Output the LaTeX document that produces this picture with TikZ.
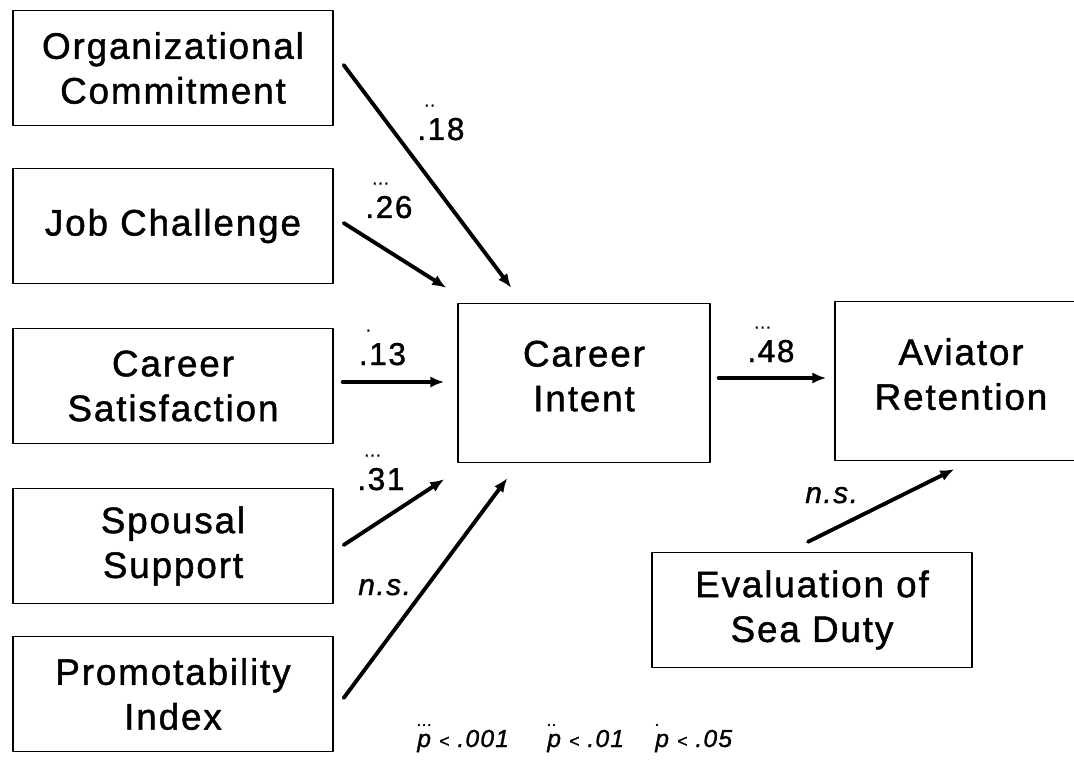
\documentclass[tikz,border=0pt]{standalone}
\usepackage{fontspec}
\setmainfont{Liberation Sans}[LetterSpace=5,FakeBold=1.2]
\usetikzlibrary{arrows.meta,calc}

% significance dots set above a coefficient or above p
\newcommand{\sigdots}[1]{\rlap{\kern4pt\raisebox{19pt}{\fontsize{10}{10}\selectfont #1}}}
\newcommand{\plevel}[1]{\rlap{\raisebox{12pt}{\fontsize{9}{9}\selectfont #1}}p}
% lifts two-line text a little inside the tall boxes
\newcommand{\lift}{\rule[-8pt]{0pt}{8pt}}

\begin{document}
\begin{tikzpicture}[x=0.02cm,y=-0.02cm,>=Latex,line cap=round,line join=round,
  var/.style={draw,line width=0.8pt,minimum width=6.4cm,minimum height=2.3cm,
    inner sep=0pt,align=center,font=\fontsize{21}{25.5}\selectfont},
  big/.style={var,minimum width=5.04cm,minimum height=3.18cm},
  link/.style={-{Latex[length=8pt,width=6.5pt]},line width=2.2pt},
  coef/.style={anchor=base west,inner sep=0pt,font=\fontsize{18}{18}\selectfont},
  ns/.style={coef,font=\fontsize{17}{17}\selectfont\itshape},
  key/.style={anchor=base west,inner sep=0pt,font=\fontsize{14}{14}\selectfont\itshape}]
  \path[use as bounding box,clip] (0,0) rectangle (1074,763);

  % predictors
  \node[var] (org) at (173,68) {Organizational\\Commitment};
  \node[var] (job) at (173,226) {Job Challenge};
  \node[var] (sat) at (173,386) {Career\\Satisfaction};
  \node[var] (spouse) at (173,546) {Spousal\\Support};
  \node[var] (promo) at (173,694) {Promotability\\Index};

  % intent, retention and sea duty
  \node[big] (ci) at (584,383) {Career\\Intent\lift};
  \node[big] (ar) at (961,381) {Aviator\\Retention\lift};
  \node[var] (sea) at (812,610) {Evaluation of\\Sea Duty};

  % paths into career intent
  \draw[link] ($(org.east)+(10,-3)$) -- ($(ci.north west)+(54,-15)$);
  \draw[link] ($(job.east)+(10,-3)$) -- ($(ci.north west)+(-11,-15)$);
  \draw[link] ($(sat.east)+(9,-4)$) -- ($(ci.west)+(-13,-1)$);
  \draw[link] ($(spouse.east)+(10,-1)$) -- ($(ci.south west)+(-13,16)$);
  \draw[link] ($(promo.east)+(10,4)$) -- ($(ci.south west)+(50,15)$);

  % paths into retention
  \draw[link] ($(ci.east)+(8,-5)$) -- ($(ar.west)+(-8,-3)$);
  \draw[link] ($(sea.north)+(-4,-10)$) -- ($(ar.south west)+(120,8)$);

  % path coefficients
  \node[coef] (b-org) at (417,140) {\sigdots{..}.18};
  \node[coef] (b-job) at (365,218) {\sigdots{...}.26};
  \node[coef] (b-sat) at (355,365) {\kern2pt\sigdots{.}.13};
  \node[coef] (b-spouse) at (357,490) {\sigdots{...}.31};
  \node[ns] (b-promo) at (358,595) {n.s.};
  \node[coef] (b-ci) at (747,362) {\sigdots{...}.48};
  \node[ns] (b-sea) at (805,503) {n.s.};

  % significance key
  \node[key] (key1) at (417,747) {\plevel{...} {\fontsize{10}{10}\selectfont <} .001};
  \node[key] (key2) at (547,747) {\plevel{..} {\fontsize{10}{10}\selectfont <} .01};
  \node[key] (key3) at (655,747) {\plevel{.} {\fontsize{10}{10}\selectfont <} .05};
\end{tikzpicture}
\end{document}
